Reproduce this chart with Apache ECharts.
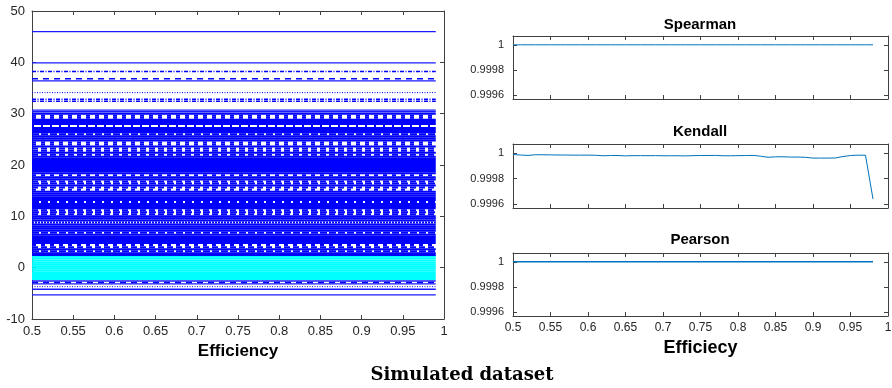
<!DOCTYPE html>
<html>
<head>
<meta charset="utf-8">
<script src="https://cdn.jsdelivr.net/npm/echarts@6/dist/echarts.min.js"></script>
<style>
  html, body { margin: 0; padding: 0; background: #fff; }
  #chart { width: 892px; height: 388px; }
</style>
</head>
<body>
<div id="chart"></div>
<script>
// efficiency grid of the correlation panels
const effX = [0.5, 0.51, 0.52, 0.53, 0.54, 0.55, 0.56, 0.57, 0.58, 0.59,
  0.6, 0.61, 0.62, 0.63, 0.64, 0.65, 0.66, 0.67, 0.68, 0.69,
  0.7, 0.71, 0.72, 0.73, 0.74, 0.75, 0.76, 0.77, 0.78, 0.79,
  0.8, 0.81, 0.82, 0.83, 0.84, 0.85, 0.86, 0.87, 0.88, 0.89,
  0.9, 0.91, 0.92, 0.93, 0.94, 0.95, 0.96, 0.97, 0.98];

const effTicks = [0.5, 0.55, 0.6, 0.65, 0.7, 0.75, 0.8, 0.85, 0.9, 0.95, 1];
const effLabels = [0.5, 0.55, 0.6, 0.65, 0.7, 0.75, 0.8, 0.85, 0.9, 0.95];
const effEndLabel = '1';

const spearman = [1, 1, 1, 1, 1, 1, 1, 1, 1, 1, 1, 1, 1, 1, 1, 1, 1, 1, 1, 1,
  1, 1, 1, 1, 1, 1, 1, 1, 1, 1, 1, 1, 1, 1, 1, 1, 1, 1, 1, 1,
  1, 1, 1, 1, 1, 1, 1, 1, 1];

const kendall = [0.999988, 0.999984, 0.999981, 0.999986, 0.999986, 0.999985, 0.999984, 0.999984, 0.999983, 0.999983,
  0.999983, 0.999982, 0.999978, 0.99998, 0.99998, 0.999977, 0.999979, 0.999979, 0.999979, 0.999979,
  0.999978, 0.999978, 0.999978, 0.999977, 0.999979, 0.99998, 0.99998, 0.999981, 0.999978, 0.999978,
  0.999979, 0.99998, 0.999981, 0.999975, 0.999966, 0.99997, 0.99997, 0.999968, 0.999968, 0.999966,
  0.99996, 0.99996, 0.99996, 0.999961, 0.999972, 0.99998, 0.999983, 0.999982, 0.99964];

const pearson = [1, 1, 1, 1, 1, 1, 1, 1, 1, 1, 1, 1, 1, 1, 1, 1, 1, 1, 1, 1,
  1, 1, 1, 1, 1, 1, 1, 1, 1, 1, 1, 1, 1, 1, 1, 1, 1, 1, 1, 1,
  1, 1, 1, 1, 1, 1, 1, 1, 1];

const corrTicks = [0.9996, 0.9998, 1];

// left panel: each trace is flat over efficiency, so only its level is kept
const lineX = [0.5, 0.99];
const singleSolid = [46, 39.9, 36.4, 30.7, 30.4, -2.6, -3.15, -4.2, -5.3];
const singleDashed = [36.8, -2.88];
const singleDotted = [34.1, -3.7];
const singleDashDot = [38.2, 32.8, 32.4];

const bandSolid = [30.0, 28.8, 28.4, 28.0, 27.2, 26.8, 26.4, 25.6, 25.2, 24.8, 23.6, 22.4,
  21.6, 21.2, 20.8, 20.4, 20.0, 19.6, 19.2, 18.8, 18.4, 17.6, 17.2, 16.0, 14.8, 14.4,
  14.0, 13.6, 13.2, 12.4, 12.0, 11.6, 10.0, 9.6, 9.2, 8.4, 8.0, 7.6, 7.2, 6.4, 6.0,
  5.6, 5.2, 4.8, 3.6, 2.8, 2.5];
const bandDotted = [26.0, 16.4, 12.8, 10.8, 6.8, 3.2];
const bandPale = [8.8];
const bandWideGap = [29.6, 29.2, 24.4, 24.0, 18.0, 15.2, 4.4];
const bandNarrowGap = [23.2, 22.8, 22.0, 16.8, 15.6, 11.2, 10.4, 4.0];
const bandSparse = [27.6];
const cyanLevels = [2.2, 1.8, 1.4, 1.0, 0.6, 0.2, -0.2, -0.6, -1.0, -1.4, -1.8, -2.2];

const AXIS = '#404040';
const LABEL = '#262626';
const FONT = '"Liberation Sans", Arial, sans-serif';

const GRIDS = [
  { left: 32, top: 11, width: 412, height: 308 },
  { left: 513, top: 36, width: 375, height: 63 },
  { left: 513, top: 144, width: 375, height: 64 },
  { left: 513, top: 253, width: 375, height: 63 }
];

function flat(levels, color, width, type) {
  return levels.map(y => ({
    type: 'line',
    xAxisIndex: 0,
    yAxisIndex: 0,
    data: lineX.map(x => [x, y]),
    symbol: 'none',
    silent: true,
    lineStyle: { color: color, width: width, type: type }
  }));
}

function box(grid, opts) {
  // bottom/top and left/right axes so the frame and inward ticks match matlab
  const xb = {
    type: 'value', gridIndex: grid, position: 'bottom',
    min: 0.5, max: 1,
    axisLine: { show: true, onZero: false, lineStyle: { color: AXIS, width: 1 } },
    axisTick: { show: true, inside: true, length: 4, lineStyle: { color: AXIS }, customValues: effTicks },
    axisLabel: opts.xLabel
      ? { show: true, color: LABEL, fontSize: opts.xFont, fontFamily: FONT, margin: 6, customValues: effLabels }
      : { show: false },
    splitLine: { show: false }
  };
  if (opts.xName) {
    xb.name = opts.xName;
    xb.nameLocation = 'middle';
    xb.nameGap = opts.nameGap;
    xb.nameTextStyle = { color: '#000', fontSize: opts.nameFont, fontWeight: 'bold', fontFamily: FONT };
  }
  const xt = {
    type: 'value', gridIndex: grid, position: 'top',
    min: 0.5, max: 1,
    axisLine: { show: true, onZero: false, lineStyle: { color: AXIS, width: 1 } },
    axisTick: { show: true, inside: true, length: 4, lineStyle: { color: AXIS }, customValues: effTicks },
    axisLabel: { show: false },
    splitLine: { show: false }
  };
  const yl = Object.assign({
    type: 'value', gridIndex: grid, position: 'left',
    axisLine: { show: true, onZero: false, lineStyle: { color: AXIS, width: 1 } },
    splitLine: { show: false }
  }, opts.y);
  const yr = Object.assign({}, yl, {
    position: 'right',
    axisLabel: { show: false }
  });
  return { x: [xb, xt], y: [yl, yr] };
}

const leftBox = box(0, { xLabel: true, xFont: 13, xName: 'Efficiency', nameGap: 24, nameFont: 17,
  y: {
    min: -10, max: 50, interval: 10,
    axisTick: { show: true, inside: true, length: 4, lineStyle: { color: AXIS } },
    axisLabel: { show: true, color: LABEL, fontSize: 13, fontFamily: FONT, margin: 7,
      showMinLabel: true, showMaxLabel: true }
  } });

function corrY() {
  return {
    min: 0.99957, max: 1.00007,
    axisTick: { show: true, inside: true, length: 4, lineStyle: { color: AXIS }, customValues: corrTicks },
    axisLabel: { show: true, color: LABEL, fontSize: 11, fontFamily: FONT, margin: 9, customValues: corrTicks,
      formatter: v => String(Math.round(v * 10000) / 10000) }
  };
}

const spBox = box(1, { xLabel: false, y: corrY() });
const kdBox = box(2, { xLabel: false, y: corrY() });
const peBox = box(3, { xLabel: true, xFont: 12, xName: 'Efficiecy', nameGap: 23, nameFont: 18, y: corrY() });

const boxes = [leftBox, spBox, kdBox, peBox];
const xAxes = [];
const yAxes = [];
boxes.forEach(b => { xAxes.push(...b.x); yAxes.push(...b.y); });

function corrSeries(i, values, width) {
  return {
    type: 'line',
    xAxisIndex: i * 2,
    yAxisIndex: i * 2,
    data: effX.map((x, k) => [x, values[k]]),
    symbol: 'none',
    silent: true,
    lineStyle: { color: '#0072BD', width: width }
  };
}

const BLUE = '#0000ff';
const series = [].concat(
  flat(cyanLevels, '#00ffff', 2.2, 'solid'),
  flat(bandSolid, BLUE, 2.1, 'solid'),
  flat(bandDotted, BLUE, 2.0, [7, 2]),
  flat(bandPale, BLUE, 2.0, [2, 1]),
  flat(bandWideGap, BLUE, 2.0, [4, 5]),
  flat(bandNarrowGap, BLUE, 2.0, [6, 3]),
  flat(bandSparse, BLUE, 2.0, [2, 7]),
  flat(singleSolid, '#1a1aff', 1.3, 'solid'),
  flat(singleDashed, BLUE, 1.5, [6, 5]),
  flat(singleDotted, BLUE, 1, [1, 1.5]),
  flat(singleDashDot, BLUE, 1.5, [4, 1.5, 1, 1.5]),
  [corrSeries(1, spearman, 1), corrSeries(2, kendall, 1), corrSeries(3, pearson, 1.5)]
);

function label(text, x, y, size, family) {
  return {
    type: 'text', x: x, y: y, silent: true,
    style: {
      text: text, fill: '#000',
      font: 'bold ' + size + 'px ' + family,
      align: 'center', verticalAlign: 'middle',
      textAlign: 'center', textVerticalAlign: 'middle'
    }
  };
}

// echarts drops the tick label sitting on the axis end, so draw "1" at the grid's right edge
function endLabel(g, size) {
  return {
    type: 'text', x: g.left + g.width, y: g.top + g.height + 6, silent: true,
    style: {
      text: effEndLabel, fill: LABEL,
      font: size + 'px ' + FONT,
      align: 'center', verticalAlign: 'top',
      textAlign: 'center', textVerticalAlign: 'top'
    }
  };
}

const chart = echarts.init(document.getElementById('chart'), null, { renderer: 'canvas' });
chart.setOption({
  animation: false,
  backgroundColor: '#fff',
  grid: GRIDS,
  xAxis: xAxes,
  yAxis: yAxes,
  series: series,
  graphic: [
    label('Spearman', 700, 25, 15, FONT),
    label('Kendall', 700, 132, 15, FONT),
    label('Pearson', 700, 240, 15, FONT),
    label('Simulated dataset', 462, 375, 18, '"DejaVu Serif", serif'),
    endLabel(GRIDS[0], 13),
    endLabel(GRIDS[3], 12)
  ]
});
</script>
</body>
</html>
